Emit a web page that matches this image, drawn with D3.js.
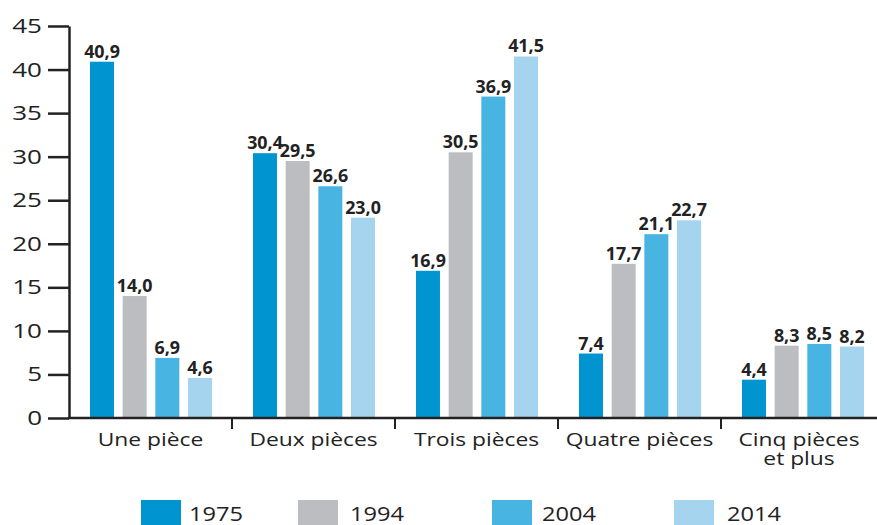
<!DOCTYPE html>
<html>
<head>
<meta charset="utf-8">
<script src="https://cdn.jsdelivr.net/npm/d3@7"></script>
<style>
  body { margin: 0; background: #fff; }
  text { font-family: "Open Sans", "Noto Sans", sans-serif; fill: #222; }
</style>
</head>
<body>
<svg id="chart"></svg>
<script>
// Data
const categories = ["Une pièce", "Deux pièces", "Trois pièces", "Quatre pièces", "Cinq pièces et plus"];
const years = ["1975", "1994", "2004", "2014"];
const v1975 = [40.9, 30.4, 16.9, 7.4, 4.4];
const v1994 = [14.0, 29.5, 30.5, 17.7, 8.3];
const v2004 = [6.9, 26.6, 36.9, 21.1, 8.5];
const v2014 = [4.6, 23.0, 41.5, 22.7, 8.2];
const yTicks = [0, 5, 10, 15, 20, 25, 30, 35, 40, 45];

const series = [v1975, v1994, v2004, v2014];
const colors = ["#0095d0", "#bcbdc1", "#48b4e2", "#a5d4ee"];

const width = 877;
const height = 525;

const svg = d3.select("#chart")
  .attr("width", width)
  .attr("height", height);

// text is wider in the original, so stretch it horizontally
const place = (x, y, sx) => `translate(${x},${y}) scale(${sx},1)`;

// Scales
const x = d3.scaleBand()
  .domain(categories)
  .range([69, 884]);

const xSub = d3.scaleBand()
  .domain(years)
  .range([21, 143])
  .paddingInner(0.266);

const y = d3.scaleLinear()
  .domain([0, 45])
  .range([418, 26]);

const color = d3.scaleOrdinal().domain(years).range(colors);

// Bars
const rows = [];
categories.forEach((c, i) => {
  years.forEach((yr, j) => rows.push({ cat: c, year: yr, value: series[j][i] }));
});

svg.selectAll("rect.bar")
  .data(rows)
  .enter()
  .append("rect")
  .attr("class", "bar")
  .attr("x", d => x(d.cat) + xSub(d.year))
  .attr("y", d => y(d.value))
  .attr("width", xSub.bandwidth())
  .attr("height", d => y(0) - y(d.value))
  .attr("fill", d => color(d.year));

// Value labels
const fmt = v => v.toFixed(1).replace(".", ",");
svg.selectAll("text.val")
  .data(rows)
  .enter()
  .append("text")
  .attr("class", "val")
  .attr("transform", d => place(x(d.cat) + xSub(d.year) + xSub.bandwidth() / 2, y(d.value) - 4, 1.05))
  .attr("text-anchor", "middle")
  .style("font-size", "17px")
  .style("font-weight", "bold")
  .text(d => fmt(d.value));

// Y axis
const yAxis = svg.append("g")
  .attr("transform", "translate(69,0)")
  .call(d3.axisLeft(y).tickValues(yTicks).tickSize(21).tickSizeOuter(0).tickFormat(""));
yAxis.select(".domain").attr("stroke", "#222").attr("stroke-width", 2.5);
yAxis.selectAll(".tick line").attr("stroke", "#222").attr("stroke-width", 2.5);

svg.selectAll("text.ytick")
  .data(yTicks)
  .enter()
  .append("text")
  .attr("class", "ytick")
  .attr("transform", d => place(42, y(d) + 7, 1.3))
  .attr("text-anchor", "end")
  .style("font-size", "20px")
  .text(d => d);

// X axis
svg.append("line")
  .attr("x1", 68).attr("x2", width)
  .attr("y1", y(0)).attr("y2", y(0))
  .attr("stroke", "#222").attr("stroke-width", 2.5);

svg.selectAll("line.sep")
  .data(categories.slice(1))
  .enter()
  .append("line")
  .attr("class", "sep")
  .attr("x1", d => x(d)).attr("x2", d => x(d))
  .attr("y1", y(0)).attr("y2", y(0) + 11)
  .attr("stroke", "#222").attr("stroke-width", 2);

// Category labels (last one wraps on two lines)
categories.forEach(c => {
  const lines = c === "Cinq pièces et plus" ? ["Cinq pièces", "et plus"] : [c];
  const cx = c === "Cinq pièces et plus" ? 799 : x(c) + x.bandwidth() / 2;
  const t = svg.append("text")
    .attr("class", "cat")
    .attr("transform", place(cx, 446, 1.2))
    .attr("text-anchor", "middle")
    .style("font-size", "19px");
  lines.forEach((ln, k) => {
    t.append("tspan")
      .attr("x", 0)
      .attr("dy", k === 0 ? 0 : 19)
      .text(ln);
  });
});

// Legend
const legendX = [141, 298, 492, 674];
const legendTextX = [189, 350, 542, 727];
const legend = svg.selectAll("g.leg")
  .data(years)
  .enter()
  .append("g")
  .attr("class", "leg");

legend.append("rect")
  .attr("x", (d, i) => legendX[i])
  .attr("y", 500)
  .attr("width", 40)
  .attr("height", 26)
  .attr("fill", d => color(d));

legend.append("text")
  .attr("transform", (d, i) => place(legendTextX[i], 521, 1.18))
  .style("font-size", "20px")
  .text(d => d);
</script>
</body>
</html>
